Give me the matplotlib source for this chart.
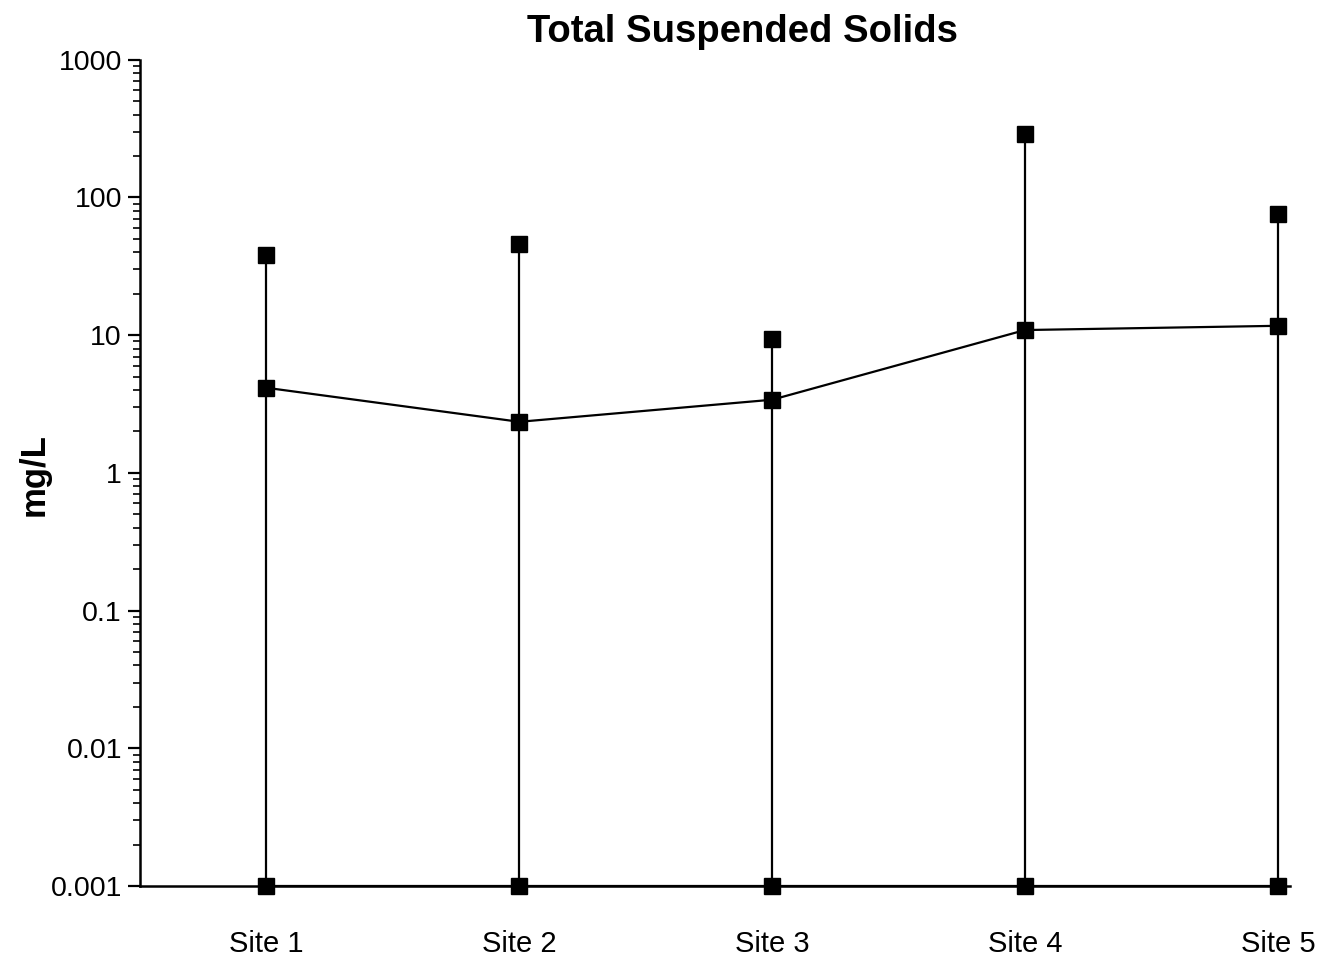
# Total Suspended Solids: min / mean / max per site on a log scale
import matplotlib.pyplot as plt
import numpy as np
from matplotlib.ticker import FixedLocator, LogLocator, NullFormatter

plt.rcParams['font.family'] = ['Liberation Sans', 'DejaVu Sans']

sites = ['Site 1', 'Site 2', 'Site 3', 'Site 4', 'Site 5']
tss_min = [0.001, 0.001, 0.001, 0.001, 0.001]
tss_mean = [4.15, 2.35, 3.4, 10.9, 11.7]
tss_max = [38, 46, 9.4, 290, 76]

ytick_vals = [0.001, 0.01, 0.1, 1, 10, 100, 1000]
ytick_labels = ['0.001', '0.01', '0.1', '1', '10', '100', '1000']

x = np.arange(1, len(sites) + 1)

fig = plt.figure(figsize=(13.3, 9.61), dpi=100)
ax = fig.add_axes([0.1053, 0.078, 0.865, 0.8598])

# range bars from min to max
ax.vlines(x, tss_min, tss_max, color='black', lw=1.6, zorder=2)
# mean line and min line
ax.plot(x, tss_mean, color='black', lw=1.6, zorder=3)
ax.plot(x, tss_min, color='black', lw=1.6, zorder=3, clip_on=False)
# square markers
for vals in (tss_min, tss_mean, tss_max):
    ax.plot(x, vals, ls='none', marker='s', ms=11, color='black',
            zorder=4, clip_on=False)

ax.set_yscale('log')
ax.set_ylim(0.001, 1000)
ax.set_xlim(0.5, 5.05)

ax.yaxis.set_major_locator(FixedLocator(ytick_vals))
ax.set_yticklabels(ytick_labels)
ax.yaxis.set_minor_locator(LogLocator(base=10, subs=np.arange(2, 10)))
ax.yaxis.set_minor_formatter(NullFormatter())

ax.set_xticks(x)
ax.set_xticklabels(sites, fontsize=21)
ax.tick_params(axis='x', length=0, pad=32)
ax.tick_params(axis='y', which='major', length=9, width=1.6, labelsize=20.5, pad=4)
ax.tick_params(axis='y', which='minor', length=5, width=1.2)

for side in ('top', 'right'):
    ax.spines[side].set_visible(False)
ax.spines['left'].set_linewidth(1.8)
ax.spines['bottom'].set_linewidth(1.8)

fig.text(0.026, 0.506, 'mg/L', rotation=90, ha='center', va='center',
         fontsize=25, fontweight='bold')
fig.text(0.558, 0.967, 'Total Suspended Solids', ha='center', va='center',
         fontsize=27.5, fontweight='bold')

fig.savefig('out.png', dpi=100)
